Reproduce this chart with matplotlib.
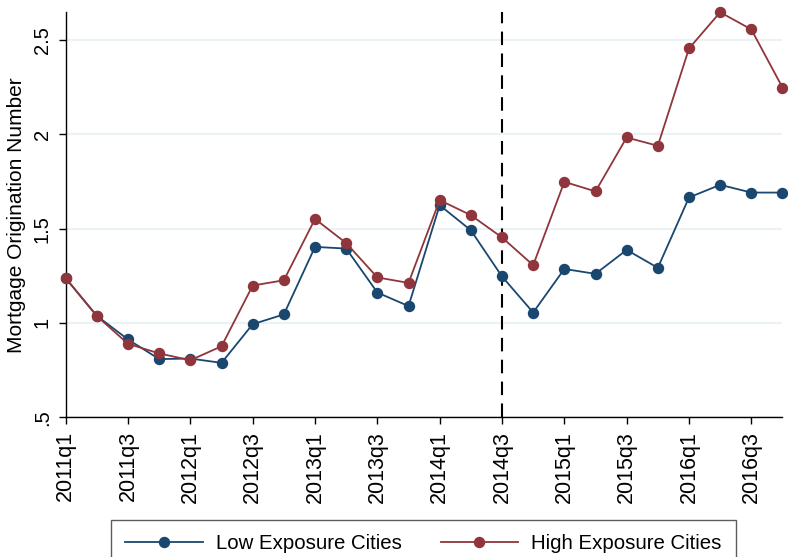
import matplotlib
matplotlib.use("Agg")
import matplotlib.pyplot as plt
import numpy as np

plt.rcParams['font.family'] = ['Liberation Sans', 'DejaVu Sans']

quarters = [f"{y}q{q}" for y in range(2011, 2017) for q in range(1, 5)]
low_exposure = [1.237, 1.037, 0.912, 0.808, 0.811, 0.788, 0.993, 1.045,
                1.403, 1.394, 1.161, 1.089, 1.624, 1.491, 1.246, 1.055,
                1.286, 1.260, 1.387, 1.292, 1.665, 1.732, 1.691, 1.691]
high_exposure = [1.237, 1.036, 0.889, 0.838, 0.802, 0.876, 1.198, 1.226,
                 1.551, 1.423, 1.241, 1.212, 1.651, 1.571, 1.453, 1.306,
                 1.748, 1.697, 1.983, 1.939, 2.455, 2.647, 2.556, 2.248]
y_ticks = [0.5, 1.0, 1.5, 2.0, 2.5]
y_tick_labels = [".5", "1", "1.5", "2", "2.5"]
event_quarter = "2014q3"

blue = "#1a476f"
red = "#90353b"

fig = plt.figure(figsize=(7.88, 5.57), dpi=100)
ax = fig.add_axes([0.0834, 0.251, 0.9096, 0.727])

x = np.arange(len(quarters))
ax.plot(x, low_exposure, color=blue, lw=1.3, marker='o', ms=7.2,
        label="Low Exposure Cities", clip_on=False, zorder=3)
ax.plot(x, high_exposure, color=red, lw=1.3, marker='o', ms=7.2,
        label="High Exposure Cities", clip_on=False, zorder=4)

ev = quarters.index(event_quarter)
ax.axvline(ev, color='black', lw=1.5, ls=(0, (6.5, 4)), zorder=2)

ax.set_xlim(0, len(quarters) - 1)
ax.set_ylim(0.5, max(high_exposure))

ax.set_yticks(y_ticks)
ax.set_yticklabels(y_tick_labels, rotation=90, va='center', fontsize=14.5)
ax.set_xticks(x[::2])
ax.set_xticklabels(quarters[::2], rotation=90, fontsize=15.5)
ax.tick_params(axis='both', direction='out', length=5, width=1,
               color='black', pad=5)

ax.grid(axis='y', color='#eaf2f3', lw=1.5, zorder=0)
ax.set_axisbelow(True)
for side in ('top', 'right'):
    ax.spines[side].set_visible(False)
for side in ('left', 'bottom'):
    ax.spines[side].set_linewidth(1.0)

ax.set_ylabel("Mortgage Origination Number", fontsize=15, labelpad=5)

leg = fig.legend(loc='upper center', bbox_to_anchor=(0.5375, 0.067),
                 ncol=2, fontsize=14.7, frameon=True, fancybox=False,
                 edgecolor='#333333', handlelength=3.8, handletextpad=0.64,
                 columnspacing=1.9, borderpad=0.7, borderaxespad=0)
leg.get_frame().set_linewidth(1.0)

fig.savefig("out.png", dpi=100)
